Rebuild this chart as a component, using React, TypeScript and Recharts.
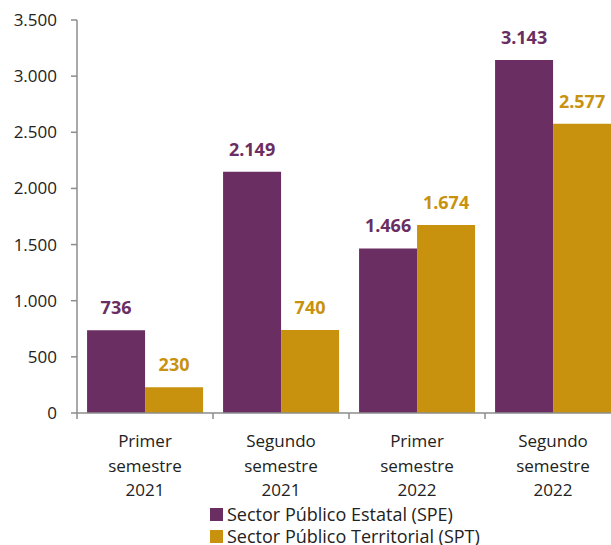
import { BarChart, Bar, XAxis, YAxis, Legend, LabelList } from 'recharts';

const categories = [
  ['Primer', 'semestre', '2021'],
  ['Segundo', 'semestre', '2021'],
  ['Primer', 'semestre', '2022'],
  ['Segundo', 'semestre', '2022'],
];
const speValues = [736, 2149, 1466, 3143];
const sptValues = [230, 740, 1674, 2577];
const yTicks = [0, 500, 1000, 1500, 2000, 2500, 3000, 3500];
const seriesNames = ['Sector Público Estatal (SPE)', 'Sector Público Territorial (SPT)'];

const PURPLE = '#6a2e62';
const GOLD = '#c8920f';
const AXIS = '#8c8c8c';
const FONT = '"Open Sans", sans-serif';

const fmtThousands = (v: number) => String(v).replace(/\B(?=(\d{3})+(?!\d))/g, '.');

const data = categories.map((c, i) => ({
  name: c.join(' '),
  spe: speValues[i],
  spt: sptValues[i],
}));

const CHART_W = 625;
const CHART_H = 545;
const Y_W = 77;
const MARGIN_R = 4;
const bandWidth = (CHART_W - Y_W - MARGIN_R) / categories.length;

// recharts hands the tick its text position (axis + 8px), so step back for the tick mark
function CategoryTick(props: any) {
  const { x, y, index } = props;
  const lines = categories[index] || [];
  const left = x - bandWidth / 2;
  const axisY = y - 8;
  return (
    <g>
      <line x1={left} x2={left} y1={axisY} y2={axisY + 6} stroke={AXIS} strokeWidth={1.5} />
      <text x={x} y={axisY + 34} textAnchor="middle" fontSize={17} fontFamily={FONT} fill="#222">
        {lines.map((l: string, i: number) => (
          <tspan key={i} x={x} dy={i === 0 ? 0 : 24.5}>
            {l}
          </tspan>
        ))}
      </text>
    </g>
  );
}

function LegendBox() {
  const colors = [PURPLE, GOLD];
  return (
    <div style={{ fontFamily: FONT, fontSize: 18, color: '#222', lineHeight: '21.5px', position: 'absolute', left: 210, top: 504 }}>
      {seriesNames.map((n, i) => (
        <div key={n} style={{ display: 'flex', alignItems: 'center', whiteSpace: 'nowrap', height: 21.5 }}>
          <span style={{ width: 13, height: 13, background: colors[i], marginRight: 4, display: 'inline-block' }} />
          <span>{n}</span>
        </div>
      ))}
    </div>
  );
}

export default function App() {
  return (
    <div style={{ position: 'absolute', left: 0, top: 0, width: 611, height: 545, overflow: 'hidden', background: '#fff' }}>
      <BarChart
        width={CHART_W}
        height={CHART_H}
        data={data}
        margin={{ top: 20, right: MARGIN_R, left: 0, bottom: 43 }}
        barCategoryGap="7.4%"
        barGap={0}
      >
        <XAxis
          dataKey="name"
          tick={<CategoryTick />}
          tickLine={false}
          axisLine={{ stroke: AXIS, strokeWidth: 1.5 }}
          height={89}
          interval={0}
        />
        <YAxis
          width={Y_W}
          domain={[0, 3500]}
          ticks={yTicks}
          tickFormatter={fmtThousands}
          tickSize={6}
          tickMargin={14}
          axisLine={{ stroke: AXIS, strokeWidth: 1.5 }}
          tickLine={{ stroke: AXIS, strokeWidth: 1.5 }}
          tick={{ fill: '#222', fontSize: 17, fontFamily: FONT }}
        />
        <Legend
          verticalAlign="top"
          align="left"
          content={<LegendBox />}
          wrapperStyle={{ left: 0, top: 0, width: 0, height: 0, overflow: 'visible' }}
        />
        <Bar dataKey="spe" name={seriesNames[0]} fill={PURPLE} isAnimationActive={false}>
          <LabelList
            dataKey="spe"
            position="top"
            offset={16}
            formatter={(v: any) => fmtThousands(v)}
            style={{ fill: PURPLE, fontWeight: 700, fontSize: 18, fontFamily: FONT }}
          />
        </Bar>
        <Bar dataKey="spt" name={seriesNames[1]} fill={GOLD} isAnimationActive={false}>
          <LabelList
            dataKey="spt"
            position="top"
            offset={16}
            formatter={(v: any) => fmtThousands(v)}
            style={{ fill: GOLD, fontWeight: 700, fontSize: 18, fontFamily: FONT }}
          />
        </Bar>
      </BarChart>
    </div>
  );
}
